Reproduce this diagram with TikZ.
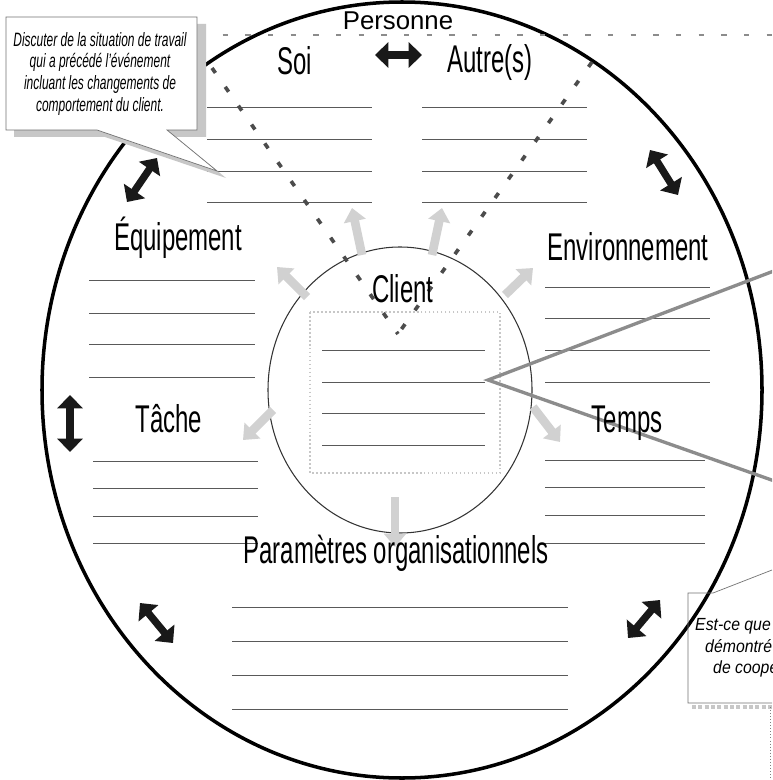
\documentclass[tikz,border=0pt]{standalone}
\usepackage{fontspec}
\setmainfont{Liberation Sans}
\newfontfamily\condfont[FakeStretch=0.62]{Liberation Sans}
\newfontfamily\notefont[FakeStretch=0.9]{Liberation Sans}
\usetikzlibrary{
  arrows.meta,
  calc,
}
\tikzstyle{zone} = [
  font=\condfont\fontsize{33}{36}\selectfont,
  anchor=base,
  inner sep=0pt,
]
\tikzstyle{writeline} = [line width=0.7pt, black!65]
\tikzstyle{linkarrow} = [
  {Triangle[length=4mm,width=7.5mm]}-{Triangle[length=4mm,width=7.5mm]},
  line width=2.2mm,
  black!90,
]
\tikzstyle{halo} = [
  -{Triangle[length=4mm,width=6.5mm]},
  line width=2.6mm,
  black!18,
]
\definecolor{halftone}{gray}{0.78}

\begin{document}
\begin{tikzpicture}[x=0.3mm, y=-0.3mm,
                    note/.style={font=\condfont\itshape\fontsize{16.5}{18.3}\selectfont,
                                 inner sep=0pt, anchor=base},
                    farnote/.style={font=\notefont\itshape\fontsize{15}{18}\selectfont,
                                    inner sep=0pt, anchor=base west},
                    guide/.style={black!70, line width=1.1mm, dash pattern=on 1.8mm off 5.1mm}]
      \useasboundingbox (0,0) rectangle (772,780);
      \clip (0,0) rectangle (772,780);
      \fill [white] (0,0) rectangle (772,780);

      % circles
      \draw [line width=3pt] (402,390) ellipse [x radius=360, y radius=388];
      \draw [line width=0.9pt, black!80] (400,390) ellipse [x radius=132, y radius=143];
      \draw [halftone, dotted, line width=1.4pt] (310,312) rectangle (500,473);

      % lines to write on
      \foreach \y in {107,139,171,202} {
        \draw [writeline] (207,\y) -- (372,\y);
        \draw [writeline] (422,\y) -- (587,\y);
      }
      \foreach \y in {280,313,344,377} \draw [writeline] (89,\y) -- (255,\y);
      \foreach \y in {287,318,350,382} \draw [writeline] (545,\y) -- (710,\y);
      \foreach \y in {461,488,516,543} \draw [writeline] (93,\y) -- (258,\y);
      \foreach \y in {460,487,515,543} \draw [writeline] (545,\y) -- (705,\y);
      \foreach \y in {607,641,675,709} \draw [writeline] (232,\y) -- (568,\y);
      \foreach \y in {350,382,413,445} \draw [writeline] (322,\y) -- (485,\y);

      % the person zone
      \draw [black!45, line width=0.7mm, dash pattern=on 1.6mm off 5.2mm] (200,35) -- (772,35);
      \coordinate (vtip) at (398,334);
      \draw [guide] (212,68) -- (vtip);
      \draw [guide] (592,62) -- (vtip);

      % client arrows
      \draw [halo] (362,255) -- (352,208);
      \draw [halo] (432,255) -- (442,208);
      \draw [halo] (307,297) -- (277,267);
      \draw [halo] (505,295) -- (533,268);
      \draw [halo] (273,410) -- (243,440);
      \draw [halo] (533,407) -- (560,442);
      \draw [halo] (395,497) -- (395,547);

      % pointers of the note on the right
      \coordinate (boxnote) at (488,380);
      \coordinate (farup) at (800,261);
      \coordinate (fardown) at (800,490);
      \draw [black!45, line width=1mm] (farup) -- (boxnote) -- (fardown);

      \node [font=\fontsize{22}{26}\selectfont, anchor=base, inner sep=0pt]
            (personne) at (398,30) {Personne};
      \node [zone] (soi) at (295,75) {Soi};
      \node [zone] (autres) at (490,73) {Autre(s)};
      \node [zone] (equip) at (178,250) {Équipement};
      \node [zone] (envir) at (628,260) {Environnement};
      \node [zone] (client) at (403,302) {Client};
      \node [zone] (tache) at (169,432) {Tâche};
      \node [zone] (temps) at (627,432) {Temps};
      \node [zone] (param) at (396,563) {Paramètres organisationnels};

      % links between the zones
      \draw [linkarrow] (375,55) -- (422,55);
      \draw [linkarrow] (127,202) -- (157,158);
      \draw [linkarrow] (650,150) -- (678,195);
      \draw [linkarrow] (70,395) -- (70,452);
      \draw [linkarrow] (140,603) -- (173,643);
      \draw [linkarrow] (660,600) -- (628,638);

      % note on the left
      \fill [halftone] (14,24) -- (206,24) -- (206,137) -- (176,137) -- (226,178)
                    -- (105,137) -- (14,137) -- cycle;
      \draw [black!55, line width=0.6pt, fill=white] (6,17) -- (197,17) -- (197,130)
                    -- (167,130) -- (217,171) -- (97,130) -- (6,130) -- cycle;
      \node [note] (discuss1) at (100,47) {Discuter de la situation de travail};
      \node [note] (discuss2) at (100,68) {qui a précédé l’événement};
      \node [note] (discuss3) at (100,90) {incluant les changements de};
      \node [note] (discuss4) at (100,112) {comportement du client.};

      % note on the right
      \draw [halftone, line width=1.2mm, dotted] (692,707) -- (772,707);
      \draw [black!55, line width=0.6pt] (772,570) -- (713,593) -- (688,593)
                    -- (688,703) -- (772,703);
      \draw [black!50, line width=0.6pt, dotted] (770,707) -- (770,780);
      \node [farnote] (coop1) at (695,630) {Est-ce que};
      \node [farnote] (coop2) at (705,652) {démontré};
      \node [farnote] (coop3) at (713,673) {de coope};
    \end{tikzpicture}
\end{document}
